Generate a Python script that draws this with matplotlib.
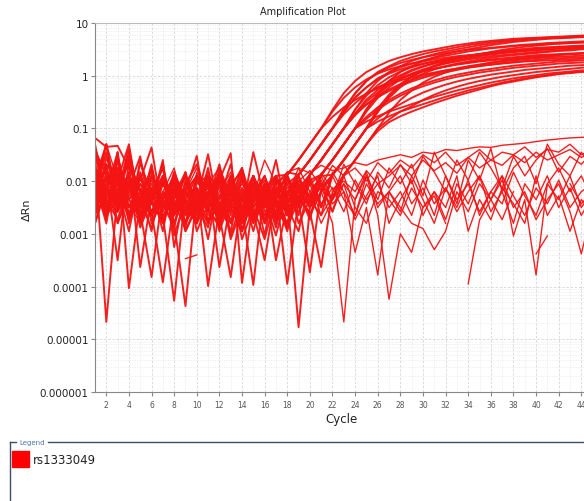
import numpy as np
import matplotlib
matplotlib.use("Agg")
import matplotlib.pyplot as plt
from matplotlib.lines import Line2D
from matplotlib.patches import Rectangle
from matplotlib.ticker import FixedLocator, LogLocator, NullFormatter

nan = float("nan")

# cycle numbers on the x axis
cycles = list(range(1, 46))

# log10(delta Rn) per cycle (nan = point not drawn)
# amplified wells
amp_01 = [-1.18, -1.35, -1.33, -1.75, -2.2, -1.83, -2.5, -2.05, -2.8, -1.98, -2.35, -1.68, -2.65, -2.2, -2.95, -2.13, -1.9,
          -1.88, -1.6, -1.3, -1.0,
          -0.65, -0.33, -0.1, 0.07, 0.18, 0.28, 0.35, 0.41, 0.46, 0.5, 0.54, 0.58, 0.61, 0.64, 0.66, 0.68, 0.7, 0.71, 0.72, 0.73, 0.74, 0.75, 0.76, 0.77]
amp_02 = [-1.98, -1.3, -2.43, -1.53, -2.65, -2.2, -1.75, -3.03, -2.35, -1.9, -2.58, -2.8, -2.05, -1.83, -2.5, -3.1, -2.28,
          -1.88, -1.6, -1.3, -1.0,
          -0.68, -0.42, -0.22, -0.07, 0.04, 0.12, 0.18, 0.23, 0.27, 0.31, 0.34, 0.37, 0.39, 0.41, 0.43, 0.45, 0.47, 0.48, 0.5, 0.51, 0.52, 0.53, 0.54, 0.55]
amp_03 = [-1.45, -2.2, -1.45, -2.8, -1.9, -2.43, -1.6, -3.25, -2.13, -2.65, -1.98, -2.95, -2.35, -1.75, -2.73, -2.2, -2.88, -2.05,
          -1.88, -1.6, -1.3, -1.0,
          -0.65, -0.33, -0.1, 0.07, 0.18, 0.28, 0.35, 0.41, 0.46, 0.5, 0.54, 0.58, 0.61, 0.64, 0.66, 0.68, 0.7, 0.71, 0.72, 0.73, 0.74, 0.75, 0.76]
amp_04 = [-2.5, -1.55, -2.05, -1.68, -3.63, -2.28, -1.9, -2.58, -1.83, -2.95, -2.43, -2.05, -3.1, -2.5, -1.9, -2.8, -2.35, -1.83,
          -1.88, -1.6, -1.3, -1.0,
          -0.7, -0.41, -0.22, -0.05, 0.06, 0.16, 0.23, 0.29, 0.34, 0.38, 0.42, 0.46, 0.49, 0.52, 0.54, 0.56, 0.58, 0.59, 0.6, 0.61, 0.62, 0.63, 0.64]
amp_05 = [-1.83, -2.65, -1.45, -4.03, -2.35, -1.75, -2.73, -2.2, -1.9, -2.5, -2.88, -1.75, -2.28, -2.65, -2.05, -3.03, -1.9, -2.43,
          -1.88, -1.6, -1.3, -1.0,
          -0.68, -0.42, -0.22, -0.07, 0.04, 0.12, 0.18, 0.23, 0.27, 0.31, 0.34, 0.37, 0.39, 0.41, 0.43, 0.45, 0.47, 0.48, 0.5, 0.51, 0.52, 0.53, 0.54]
amp_06 = [-2.35, -1.68, -1.98, -1.3, -2.58, -3.82, -2.2, -2.65, -2.05, -1.68, -2.35, -2.73, -1.9, -2.95, -2.28, -1.98, -2.65, -2.2,
          -1.88, -1.6, -1.3, -1.0,
          -0.73, -0.52, -0.34, -0.22, -0.12, -0.04, 0.03, 0.09, 0.14, 0.18, 0.22, 0.25, 0.28, 0.31, 0.33, 0.35, 0.37, 0.39, 0.4, 0.41, 0.42, 0.43, 0.44]
amp_07 = [-1.5, -1.75, -2.5, -2.13, -1.53, -2.8, -2.35, -1.9, -2.58, -2.2, -3.1, -1.98, -2.43, -1.83, -2.65, -2.28, -2.8, -1.9, -2.35,
          -1.88, -1.6, -1.3, -1.0,
          -0.65, -0.33, -0.1, 0.07, 0.18, 0.28, 0.35, 0.41, 0.46, 0.5, 0.54, 0.58, 0.61, 0.64, 0.66, 0.68, 0.7, 0.71, 0.72, 0.73, 0.74, 0.75]
amp_08 = [-2.05, -2.8, -1.6, -2.35, -1.98, -1.36, -2.65, -4.27, -2.2, -2.5, -1.75, -2.88, -2.13, -2.58, -1.9, -2.35, -3.03, -2.2, -2.65,
          -1.88, -1.6, -1.3, -1.0,
          -0.64, -0.38, -0.18, -0.03, 0.08, 0.16, 0.22, 0.27, 0.31, 0.35, 0.38, 0.41, 0.43, 0.45, 0.47, 0.49, 0.51, 0.52, 0.54, 0.55, 0.56, 0.57]
amp_09 = [-1.6, -4.67, -2.2, -1.38, -2.5, -2.13, -2.95, -1.83, -2.43, -2.8, -1.98, -2.35, -1.68, -2.73, -2.28, -1.9, -2.5, -2.88, -2.13,
          -1.88, -1.6, -1.3, -1.0,
          -0.72, -0.49, -0.32, -0.17, -0.06, 0.02, 0.08, 0.13, 0.17, 0.21, 0.24, 0.27, 0.29, 0.31, 0.33, 0.35, 0.37, 0.38, 0.4, 0.41, 0.42, 0.43]
amp_10 = [-2.65, -1.9, -3.5, -1.6, -2.2, -2.58, -3.92, -2.35, -1.9, -2.8, -2.28, -1.83, -2.5, -2.95, -2.05, -2.43, -1.6, -2.65, -2.2,
          -1.88, -1.6, -1.3, -1.0,
          -0.75, -0.54, -0.38, -0.26, -0.16, -0.08, -0.01, 0.05, 0.1, 0.14, 0.18, 0.21, 0.24, 0.27, 0.29, 0.31, 0.33, 0.35, 0.36, 0.37, 0.38, 0.39]
amp_11 = [-1.3, -2.35, -1.83, -2.65, -2.05, -2.43, -1.68, -2.8, -4.37, -2.2, -2.58, -1.9, -3.03, -2.35, -2.05, -2.73, -2.2, -1.9, -2.5,
          -1.88, -1.6, -1.3, -1.0,
          -0.72, -0.45, -0.27, -0.1, 0.01, 0.11, 0.18, 0.24, 0.29, 0.33, 0.37, 0.41, 0.44, 0.47, 0.49, 0.51, 0.53, 0.54, 0.55, 0.56, 0.57, 0.58]
amp_12 = [-2.2, -1.45, -2.58, -1.9, -2.88, -2.35, -1.98, -2.65, -2.2, -1.52, -2.8, -2.43, -2.05, -3.1, -2.5, -2.13, -2.73, -2.28, -1.9, -2.43,
          -1.88, -1.6, -1.3, -1.0,
          -0.65, -0.33, -0.1, 0.07, 0.18, 0.28, 0.35, 0.41, 0.46, 0.5, 0.54, 0.58, 0.61, 0.64, 0.66, 0.68, 0.7, 0.71, 0.72, 0.73, 0.74]
amp_13 = [-1.75, -2.5, -2.05, -2.73, -1.6, -2.35, -2.8, -1.9, -2.43, -2.13, -3.99, -2.5, -2.2, -2.8, -1.9, -2.58, -2.35, -2.95, -2.05, -2.28,
          -1.88, -1.6, -1.3, -1.0,
          -0.68, -0.42, -0.22, -0.07, 0.04, 0.12, 0.18, 0.23, 0.27, 0.31, 0.34, 0.37, 0.39, 0.41, 0.43, 0.45, 0.47, 0.48, 0.5, 0.51, 0.52]
amp_14 = [-2.43, -1.68, -2.8, -2.2, -1.83, -2.65, -2.28, -1.9, -2.95, -2.5, -2.05, -3.63, -2.35, -1.98, -2.73, -2.2, -2.58, -1.9, -2.8, -2.35,
          -1.88, -1.6, -1.3, -1.0,
          -0.78, -0.6, -0.46, -0.34, -0.24, -0.16, -0.09, -0.03, 0.02, 0.06, 0.1, 0.13, 0.16, 0.19, 0.21, 0.23, 0.25, 0.27, 0.28, 0.29, 0.3]
amp_15 = [-1.9, -2.73, -1.53, -2.35, -2.58, -2.05, -2.43, -2.88, -1.98, -2.35, -1.49, -2.65, -3.82, -2.28, -1.9, -2.8, -2.13, -2.5, -2.95, -1.98,
          -1.88, -1.6, -1.3, -1.0,
          -0.63, -0.37, -0.17, -0.02, 0.09, 0.17, 0.23, 0.28, 0.32, 0.36, 0.39, 0.42, 0.44, 0.46, 0.48, 0.5, 0.52, 0.53, 0.55, 0.56, 0.57]
amp_16 = [-2.8, -2.05, -1.75, -2.5, -2.2, -2.95, -1.9, -2.35, -2.65, -2.13, -2.5, -1.98, -1.47, -3.93, -2.35, -2.05, -2.65, -2.28, -4.77, -2.5,
          -1.88, -1.6, -1.3, -1.0,
          -0.82, -0.64, -0.5, -0.38, -0.28, -0.2, -0.13, -0.07, -0.02, 0.02, 0.06, 0.09, 0.12, 0.15, 0.17, 0.19, 0.21, 0.23, 0.24, 0.25, 0.26]
amp_17 = [-1.53, -2.28, -1.9, -2.65, -2.35, -1.75, -2.58, -2.13, -2.95, -2.43, -1.9, -2.73, -2.2, -2.5, -3.97, -2.05, -2.43, -2.8, -1.98, -2.35, -2.65,
          -1.88, -1.6, -1.3, -1.0,
          -0.69, -0.39, -0.19, -0.02, 0.09, 0.19, 0.26, 0.32, 0.37, 0.41, 0.45, 0.49, 0.52, 0.55, 0.57, 0.59, 0.61, 0.62, 0.63, 0.64]
amp_18 = [-2.13, -1.3, -2.43, -1.98, -2.8, -2.2, -2.5, -1.83, -2.35, -2.73, -2.05, -2.43, -2.95, -1.9, -2.58, -3.5, -2.2, -2.65, -2.35, -3.73, -2.13,
          -1.88, -1.6, -1.3, -1.0,
          -0.68, -0.42, -0.22, -0.07, 0.04, 0.12, 0.18, 0.23, 0.27, 0.31, 0.34, 0.37, 0.39, 0.41, 0.43, 0.45, 0.47, 0.48, 0.5, 0.51]
amp_19 = [-2.58, -1.9, -2.28, -1.45, -2.65, -2.35, -1.98, -2.8, -2.2, -1.9, -2.5, -2.88, -2.13, -2.35, -2.65, -2.05, -3.5, -2.43, -2.2, -2.73, -1.9,
          -1.88, -1.6, -1.3, -1.0,
          -0.81, -0.66, -0.54, -0.42, -0.32, -0.24, -0.17, -0.11, -0.06, -0.02, 0.02, 0.05, 0.08, 0.11, 0.13, 0.15, 0.17, 0.19, 0.2, 0.21]
amp_20 = [-1.68, -2.5, -2.13, -2.95, -1.9, -2.43, -2.73, -2.28, -1.83, -2.58, -2.2, -1.9, -2.8, -2.35, -2.05, -2.5, -2.2, -3.95, -2.35, -1.98, -2.5,
          -1.88, -1.6, -1.3, -1.0,
          -0.87, -0.77, -0.68, -0.61, -0.54, -0.47, -0.4, -0.34, -0.28, -0.23, -0.18, -0.13, -0.09, -0.05, -0.02, 0.01, 0.04, 0.06, 0.08, 0.1]
amp_21 = [-2.35, -1.98, -1.6, -2.65, -2.2, -2.58, -2.05, -2.43, -2.88, -1.9, -2.35, -2.65, -2.13, -1.75, -2.5, -2.2, -2.73, -1.9, -2.35, -2.58, -3.63, -2.2,
          -1.88, -1.6, -1.3, -1.0,
          -0.7, -0.46, -0.28, -0.13, -0.02, 0.06, 0.12, 0.17, 0.21, 0.25, 0.28, 0.31, 0.33, 0.35, 0.37, 0.39, 0.41, 0.42, 0.44]
amp_22 = [-1.83, -2.65, -2.35, -1.98, -2.5, -1.68, -2.8, -2.2, -2.58, -2.05, -1.9, -2.43, -2.73, -2.28, -1.98, -2.5, -2.35, -2.8, -2.13, -2.43, -2.05, -2.58,
          -1.88, -1.6, -1.3, -1.0,
          -0.83, -0.68, -0.58, -0.46, -0.36, -0.28, -0.21, -0.15, -0.1, -0.06, -0.02, 0.01, 0.04, 0.07, 0.09, 0.11, 0.13, 0.15, 0.16]
amp_23 = [-1.4, -1.9, -2.35, -1.83, -2.73, -2.2, -2.5, -1.98, -2.8, -2.35, -2.05, -2.58, -1.9, -2.95, -2.28, -2.5, -2.05, -2.65,
          -1.88, -1.6, -1.3, -1.0,
          -0.63, -0.34, -0.1, 0.05, 0.16, 0.24, 0.3, 0.35, 0.39, 0.43, 0.46, 0.49, 0.51, 0.53, 0.55, 0.57, 0.59, 0.6, 0.62, 0.63, 0.64, 0.65, 0.66]
amp_24 = [-2.2, -2.58, -1.75, -2.13, -2.8, -1.9, -2.35, -2.65, -2.05, -2.43, -2.8, -1.9, -2.28, -2.58, -1.45, -2.35, -2.73, -2.2, -2.5,
          -1.88, -1.6, -1.3, -1.0,
          -0.73, -0.55, -0.41, -0.29, -0.19, -0.11, -0.04, 0.02, 0.07, 0.11, 0.15, 0.18, 0.21, 0.24, 0.26, 0.28, 0.3, 0.32, 0.33, 0.34, 0.35, 0.36]
amp_25 = [-1.9, -2.35, -2.73, -2.05, -2.5, -2.2, -1.75, -2.58, -2.35, -2.8, -1.98, -2.43, -2.2, -2.65, -1.9, -2.5, -2.13, -2.88, -2.35, -2.05,
          -1.88, -1.6, -1.3, -1.0,
          -0.87, -0.77, -0.68, -0.61, -0.54, -0.47, -0.4, -0.34, -0.28, -0.23, -0.18, -0.13, -0.09, -0.05, -0.02, 0.01, 0.04, 0.06, 0.08, 0.1, 0.11]
amp_26 = [-2.05, -2.43, -1.98, -2.73, -2.28, -1.9, -2.5, -2.2, -2.8, -2.35, -2.13, -2.58, -1.98, -2.35, -2.73, -2.2, -1.9, -2.5, -2.28, -2.65, -2.2,
          -1.88, -1.6, -1.3, -1.0,
          -0.62, -0.36, -0.16, -0.01, 0.1, 0.18, 0.24, 0.29, 0.33, 0.37, 0.4, 0.43, 0.45, 0.47, 0.49, 0.51, 0.53, 0.54, 0.56, 0.57]
amp_27 = [-2.8, -2.13, -2.5, -1.9, -2.35, -2.65, -1.98, -2.43, -2.2, -2.73, -2.28, -1.9, -2.5, -2.13, -2.8, -2.35, -2.05,
          -1.88, -1.6, -1.3, -1.0,
          -0.78, -0.6, -0.46, -0.34, -0.24, -0.16, -0.09, -0.03, 0.02, 0.06, 0.1, 0.13, 0.16, 0.19, 0.21, 0.23, 0.25, 0.27, 0.28, 0.29, 0.3, 0.31, 0.32, 0.33]
amp_28 = [-2.28, -1.75, -2.58, -2.2, -1.9, -2.65, -2.35, -2.05, -2.5, -2.8, -2.2, -1.98, -2.43, -2.65, -2.13, -2.35, -1.9, -2.58, -2.2, -2.5, -2.05, -2.35, -1.9,
          -1.6, -1.3, -1.05, -0.88, -0.77, -0.68, -0.6, -0.52, -0.45, -0.38, -0.32, -0.26, -0.2, -0.15, -0.11, -0.07, -0.03, 0.0, 0.03, 0.05, 0.07, 0.08]

# wells that never amplified
flat_01 = [-1.75, -2.2, -1.53, -2.5, -2.05, -2.35, -1.9, -2.65, -2.2, -1.75, -2.43, -2.05, -2.58, -1.9, -2.28, -1.6, -2.05, -1.83,
           -1.75, -1.85, -1.7, -1.8, -1.75, -1.65, -1.7, -1.6, -1.55,
           -1.5, -1.55, -1.45, -1.48, -1.4, -1.42, -1.38, -1.35, -1.36, -1.32, -1.3, -1.28, -1.25, -1.22, -1.2, -1.18, -1.17, -1.16]
flat_02 = [-2.35, -1.3, -1.98, -2.65, -1.68, -2.2, -2.8, -1.9, -2.35, -2.58, -2.05, -1.75, -2.43, -2.73, -2.2, -1.9, -2.5, -2.13,
           -2.0, -1.8, -2.1, -1.7, -1.9, -1.75, -2.0, -1.65, -1.85,
           -1.6, -1.75, -1.5, -1.65, -1.45, -1.7, -1.55, -1.4, -1.6, -1.45, -1.5, -1.35, -1.55, -1.4, -1.45, -1.3, -1.5, -1.4]
flat_03 = [-1.9, -2.65, -2.2, -1.6, -2.43, -2.88, -2.05, -2.5, -1.9, -2.35, -2.73, -2.2, -1.83, -2.5, -2.13, -2.65, -2.28, -1.9,
           -2.35, -1.98, -2.5, -1.83, -2.2, -2.65, -1.9, -2.35, -1.75,
           -2.05, -1.68, -2.28, -1.45, -1.9, -2.43, -1.6, -1.98, -1.38, -2.2, -1.75, -1.53, -2.05, -1.3, -1.68, -1.9, -1.45, -1.75]
flat_04 = [-2.5, -2.05, -2.8, -2.28, -1.9, -2.58, -2.2, -1.75, -2.65, -2.35, -1.98, -2.5, -2.8, -2.13, -2.43, -1.9, -2.65, -2.2,
           -2.05, -2.5, -2.2, -2.8, -4.67, -2.35, -1.9, -2.65, -4.24,
           -3.0, -3.35, -2.5, -2.2, -2.73, -2.05, -2.43, -1.9, -2.58, -2.2, -2.8, -2.05, -2.35, -1.9, -2.5, -2.13, -2.65, -2.28]
flat_05 = [-2.13, -2.58, -1.75, -2.35, -2.73, -1.9, -2.43, -2.2, -2.8, -1.83, -2.35, -2.65, -2.05, -2.5, -2.28, -2.73, -1.9, -2.43,
           -2.2, -2.65, -1.98, -2.43, -2.2, -3.35, -2.5, -3.78, -2.2,
           -2.58, -1.9, -2.35, -2.8, -2.13, -2.5, -1.98, -2.65, -2.2, -2.43, -1.83, -2.28, -2.65, -2.05, -2.35, -1.9, -2.5, -2.2]
flat_06 = [-1.68, -2.43, -2.05, -2.73, -2.28, -1.9, -2.5, -2.13, -2.65, -2.35, -1.83, -2.28, -2.58, -1.98, -2.35, -2.8, -2.2, -2.5,
           -1.9, -2.35, -2.13, -2.58, -2.05, -2.35, -1.83, -2.5, -2.2,
           -1.9, -2.43, -2.13, -2.65, -1.9, -2.35, -2.05, -2.58, -2.2, -1.9, -3.04, -2.35, -3.78, -2.05, -1.75, -2.2, -1.9, -2.35]
flat_07 = [-2.65, -2.2, -1.9, -2.43, -2.8, -2.35, -1.98, -2.58, -2.2, -1.9, -2.5, -2.13, -2.43, -2.8, -2.05, -2.35, -2.58, -1.98,
           -2.43, -2.05, -2.65, -2.28, -1.9, -2.5, -2.8, -2.2, -2.35,
           -2.65, -2.13, -2.5, -2.28, -2.8, nan, -3.95, -2.74, -2.35, -1.98, -2.5, -2.2, -2.73, -2.35, -2.05, -2.58, -3.38, -2.5]
flat_08 = [-1.98, -2.5, -2.28, -1.83, -2.65, -2.13, -2.43, -2.8, -2.05, -2.35, -1.9, -2.58, -2.2, -2.73, -1.9, -2.43, -2.13, -2.65,
           -2.28, -1.9, -2.43, -2.13, -2.58, -1.98, -2.35, -2.05, -2.5,
           -2.2, -2.65, -1.98, -2.43, -2.13, -2.58, -2.2, -1.9, -2.35, -2.73, -2.2, nan, -3.38, -3.04, nan, -2.05, -2.43, -2.2]
flat_09 = [-2.2, -2.65, -1.9, -2.35, -2.13, -2.58, -2.28, nan, -3.47, -3.4, nan, -2.35, -2.05, -2.5, -2.2, -2.65, -1.98, -2.43,
           -2.13, -2.5, -2.2, -1.9, -2.35, -2.65, -2.05, -2.43, -2.2,
           -2.5, -2.8, -2.9, -3.3, -2.95, -2.2, -2.58, -2.05, -2.35, -1.9, -2.28, -2.65, -2.13, -2.43, -1.98, -2.5, -2.2, -2.05]
flat_10 = [-2.43, -1.83, -2.2, -2.65, -1.9, -2.35, -2.73, -2.05, -2.5, -2.2, -2.8, -1.98, -2.35, -2.58, -2.13, -2.43, -1.9, -2.28,
           -1.75, -2.2, -1.9, -2.35, -1.68, -2.05, -2.43, -1.83, -2.13,
           -1.68, -2.05, -1.53, -1.83, -2.2, -1.6, -1.98, -1.45, -1.75, -2.13, -1.53, -1.9, -1.6, -1.38, -1.83, -1.53, -1.68, -1.45]
flat_11 = [-2.05, -2.35, -2.58, -1.9, -2.2, -2.73, -2.35, -1.98, -2.43, -2.13, -2.65, -2.28, -1.9, -2.35, -2.8, -2.2, -2.5, -2.05,
           -2.58, -2.2, -2.8, -2.35, -2.05, -2.73, -2.28, -1.9, -2.8,
           -2.35, -1.98, -2.65, -2.2, -2.5, -1.9, -2.95, -2.35, -2.73, -2.13, -2.43, -2.8, -1.9, -2.65, -2.28, -2.95, -2.35, -2.58]
flat_12 = [-1.83, -2.2, -2.5, -2.05, -2.43, -1.98, -2.65, -2.28, -1.9, -2.58, -2.2, -2.8, -2.43, -2.05, -2.35, -2.13, -2.73, -2.35,
           -2.05, -2.3, -1.85, -2.15, -2.0, -2.2, -1.8, -2.05, -1.9,
           -1.7, -1.9, -1.6, -1.8, -1.65, -1.85, -1.55, -1.75, -1.6, -1.7, -1.5, -1.65, -1.45, -1.6, -1.5, -1.4, -1.55, -1.45]

amplified = [amp_01, amp_02, amp_03, amp_04, amp_05, amp_06, amp_07, amp_08, amp_09, amp_10,
             amp_11, amp_12, amp_13, amp_14, amp_15, amp_16, amp_17, amp_18, amp_19, amp_20,
             amp_21, amp_22, amp_23, amp_24, amp_25, amp_26, amp_27, amp_28]
not_amplified = [flat_01, flat_02, flat_03, flat_04, flat_05, flat_06,
                 flat_07, flat_08, flat_09, flat_10, flat_11, flat_12]

x_ticks = list(range(2, 46, 2))
y_ticks = [1e-6, 1e-5, 1e-4, 1e-3, 1e-2, 1e-1, 1, 10]
y_tick_labels = ["0.000001", "0.00001", "0.0001", "0.001", "0.01", "0.1", "1", "10"]
sample_name = "rs1333049"

W, H = 584, 502


def fx(px):
    return px / W


def fy(py):
    return 1 - py / H


def draw_wells(ax, wells, width):
    for well in wells:
        vals = np.power(10.0, np.array(well, dtype=float))
        ax.plot(cycles[:len(vals)], vals, color="#f41414", lw=width, alpha=0.95)


def main():
    fig = plt.figure(figsize=(W / 100, H / 100), dpi=100)
    ax = fig.add_axes([fx(95), fy(393), (592.6 - 95) / W, (393 - 24) / H])

    draw_wells(ax, not_amplified, 1.0)
    draw_wells(ax, amplified, 1.4)

    ax.set_yscale("log")
    ax.set_ylim(1e-6, 10)
    ax.set_xlim(1, 45)

    ax.yaxis.set_major_locator(FixedLocator(y_ticks))
    ax.set_yticklabels(y_tick_labels)
    ax.yaxis.set_minor_locator(LogLocator(base=10, subs=range(2, 10), numticks=20))
    ax.yaxis.set_minor_formatter(NullFormatter())
    ax.set_xticks(x_ticks)
    ax.set_xticks(list(range(1, 46, 2)), minor=True)

    ax.tick_params(axis="y", which="major", labelsize=7.5, length=3, pad=1.5,
                   colors="#888888", labelcolor="#222222")
    ax.tick_params(axis="x", which="major", labelsize=5.5, length=3, pad=3,
                   colors="#888888", labelcolor="#555555")
    ax.tick_params(which="minor", length=0)

    ax.grid(which="major", color="#d6d6d6", lw=0.6, ls=(0, (3, 2)))
    ax.grid(which="minor", color="#e3e3e3", lw=0.5, ls=(0, (1, 1.5)))
    ax.set_axisbelow(True)

    ax.spines["right"].set_visible(False)
    ax.spines["top"].set_color("#bbbbbb")
    ax.spines["left"].set_color("#888888")
    ax.spines["bottom"].set_color("#888888")

    fig.text(fx(303), fy(12), "Amplification Plot", fontsize=7, ha="center", va="center", color="#222222")
    fig.text(fx(342), fy(420), "Cycle", fontsize=8.5, ha="center", va="center", color="#222222")
    fig.text(fx(27), fy(210), "\u0394Rn", fontsize=8, ha="center", va="center", rotation=90, color="#222222")

    # legend frame under the chart
    frame = "#3b5068"
    fig.add_artist(Line2D([fx(10), fx(10)], [fy(443), fy(503)], color=frame, lw=1.0))
    fig.add_artist(Line2D([fx(10), fx(16)], [fy(443), fy(443)], color=frame, lw=1.0))
    fig.add_artist(Line2D([fx(48), fx(585)], [fy(443), fy(443)], color=frame, lw=1.0))
    fig.text(fx(19), fy(443), "Legend", fontsize=5, ha="left", va="center", color="#4a72b0")
    fig.add_artist(Rectangle((fx(12), fy(468)), fx(17), 16 / H, color="#ff0000"))
    fig.text(fx(33), fy(461), sample_name, fontsize=8.5, ha="left", va="center", color="#222222")

    fig.savefig("out.png", dpi=100)


if __name__ == "__main__":
    main()
